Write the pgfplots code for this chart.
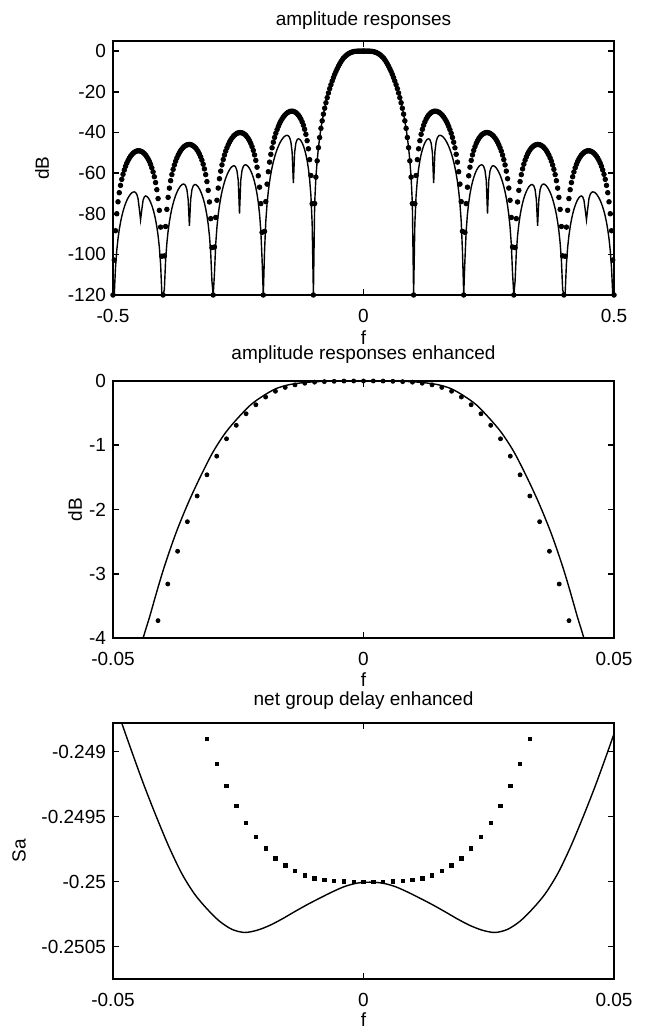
\documentclass[border=0pt]{standalone}
\usepackage{fontspec}
\setmainfont{Liberation Sans}
\usepackage{pgfplots}
\pgfplotsset{compat=1.18}
\usepackage{pgfplotstable}

% amplitude responses, f >= 0 (response is symmetric in f)
\pgfplotstableread{
f D S
0 0 0
0.0025 0 0
0.005 -0.003 -0.002
0.0075 -0.008 -0.005
0.01 -0.02 -0.013
0.0125 -0.04 -0.03
0.015 -0.08 -0.06
0.0175 -0.15 -0.12
0.02 -0.25 -0.23
0.0225 -0.43 -0.37
0.025 -0.65 -0.57
0.0275 -0.94 -0.80
0.03 -1.28 -1.10
0.0325 -1.70 -1.48
0.035 -2.19 -1.90
0.0375 -2.77 -2.38
0.04 -3.40 -2.95
0.0425 -4.25 -3.62
0.045 -5.2 -4.35
0.0475 -6.25 -5.9
0.05 -7.4 -7.2
0.0525 -8.65 -8.55
0.055 -10.0 -10.0
0.0575 -11.45 -11.45
0.06 -13.0 -13.0
0.0625 -14.7 -14.7
0.065 -16.5 -16.5
0.0675 -18.45 -18.45
0.07 -20.6 -20.6
0.0725 -22.9 -22.9
0.075 -25.4 -25.4
0.0775 -28.1 -28.1
0.08 -31.0 -31.0
0.0825 -34.3 -34.3
0.085 -38.0 -38.0
0.0875 -42.5 -42.5
0.09 -47.5 -47.5
0.0925 -54 -54
0.095 -62 -62
0.0975 -75 -75
0.1 -120 -120
0.1025 -75.1 -84.8
0.105 -61.2 -70.9
0.1075 -53.4 -63.2
0.11 -48.05 -57.85
0.1125 -44.06 -53.91
0.115 -40.94 -50.86
0.1175 -38.47 -48.49
0.12 -36.47 -46.61
0.1225 -34.81 -45.13
0.125 -33.45 -44.04
0.1275 -32.35 -43.34
0.13 -31.48 -43.13
0.1325 -30.78 -43.58
0.135 -30.24 -45.25
0.1375 -29.87 -49.88
0.14 -29.66 -65
0.1425 -29.56 -49.57
0.145 -29.59 -44.60
0.1475 -29.74 -42.54
0.15 -30.04 -41.69
0.1525 -30.43 -41.42
0.155 -30.96 -41.55
0.1575 -31.62 -41.94
0.16 -32.41 -42.55
0.1625 -33.32 -43.34
0.165 -34.39 -44.31
0.1675 -35.63 -45.48
0.17 -37.03 -46.83
0.1725 -38.61 -48.37
0.175 -40.41 -50.13
0.1775 -42.48 -52.17
0.18 -44.85 -54.52
0.1825 -47.57 -57.22
0.185 -50.78 -60.41
0.1875 -54.62 -64.24
0.19 -59.34 -68.96
0.1925 -65.45 -75.07
0.195 -74.05 -83.67
0.1975 -88.69 -98.31
0.2 -120 -120
0.2025 -89.2 -102.3
0.205 -75.04 -88.19
0.2075 -66.95 -80.12
0.21 -61.34 -74.53
0.2125 -57.11 -70.33
0.215 -53.77 -67.03
0.2175 -51.06 -64.36
0.22 -48.84 -62.19
0.2225 -46.98 -60.40
0.225 -45.41 -58.93
0.2275 -44.12 -57.76
0.23 -43.05 -56.87
0.2325 -42.16 -56.25
0.235 -41.44 -55.93
0.2375 -40.89 -56.04
0.24 -40.49 -56.79
0.2425 -40.22 -58.73
0.245 -40.09 -63.60
0.2475 -40.08 -80
0.25 -40.21 -63.72
0.2525 -40.45 -58.96
0.255 -40.84 -57.14
0.2575 -41.35 -56.50
0.26 -41.99 -56.48
0.2625 -42.76 -56.85
0.265 -43.68 -57.50
0.2675 -44.78 -58.42
0.27 -46.04 -59.56
0.2725 -47.50 -60.92
0.275 -49.17 -62.52
0.2775 -51.12 -64.42
0.28 -53.36 -66.62
0.2825 -55.97 -69.19
0.285 -59.05 -72.24
0.2875 -62.78 -75.95
0.29 -67.38 -80.53
0.2925 -73.38 -86.51
0.295 -81.86 -94.98
0.2975 -96.40 -109.5
0.3 -120 -120
0.3025 -96.68 -113.3
0.305 -82.43 -99.08
0.3075 -74.22 -90.89
0.31 -68.51 -85.20
0.3125 -64.19 -80.91
0.315 -60.76 -77.52
0.3175 -57.96 -74.76
0.32 -55.64 -72.49
0.3225 -53.68 -70.60
0.325 -52.03 -69.05
0.3275 -50.64 -67.78
0.33 -49.47 -66.79
0.3325 -48.50 -66.09
0.335 -47.69 -65.68
0.3375 -47.05 -65.70
0.34 -46.57 -66.37
0.3425 -46.22 -68.23
0.345 -46.01 -73.02
0.3475 -45.92 -86
0.35 -45.97 -72.98
0.3525 -46.13 -68.14
0.355 -46.44 -66.24
0.3575 -46.87 -65.52
0.36 -47.43 -65.42
0.3625 -48.13 -65.72
0.365 -48.97 -66.29
0.3675 -50.00 -67.14
0.37 -51.18 -68.20
0.3725 -52.56 -69.48
0.375 -54.17 -71.02
0.3775 -56.04 -72.84
0.38 -58.21 -74.97
0.3825 -60.74 -77.46
0.385 -63.76 -80.45
0.3875 -67.42 -84.09
0.39 -71.95 -88.60
0.3925 -77.88 -94.51
0.395 -86.30 -102.92
0.3975 -100.76 -117.38
0.4 -120 -120
0.4025 -100.92 -119.07
0.405 -86.60 -104.77
0.4075 -78.34 -96.53
0.41 -72.56 -90.78
0.4125 -68.18 -86.44
0.415 -64.68 -82.98
0.4175 -61.81 -80.16
0.42 -59.43 -77.85
0.4225 -57.41 -75.93
0.425 -55.70 -74.34
0.4275 -54.25 -73.07
0.43 -53.02 -72.11
0.4325 -51.99 -71.48
0.435 -51.12 -71.27
0.4375 -50.43 -71.73
0.44 -49.89 -73.40
0.4425 -49.48 -77.99
0.445 -49.20 -83
0.4475 -49.05 -77.56
0.45 -49.04 -72.55
0.4525 -49.15 -70.45
0.455 -49.40 -69.55
0.4575 -49.77 -69.26
0.46 -50.28 -69.37
0.4625 -50.92 -69.74
0.465 -51.72 -70.36
0.4675 -52.69 -71.21
0.47 -53.82 -72.24
0.4725 -55.15 -73.50
0.475 -56.69 -74.99
0.4775 -58.51 -76.77
0.48 -60.62 -78.84
0.4825 -63.10 -81.29
0.485 -66.06 -84.23
0.4875 -69.66 -87.81
0.49 -74.14 -92.27
0.4925 -80.02 -98.14
0.495 -88.38 -106.5
0.4975 -102.80 -120
0.5 -120 -120
}\toptable

% enhanced amplitude response: dotted series (k/512)
\pgfplotstableread{
f D
-0.041016 -3.73
-0.039063 -3.16
-0.037109 -2.65
-0.035156 -2.19
-0.033203 -1.79
-0.031250 -1.46
-0.029297 -1.17
-0.027344 -0.90
-0.025391 -0.69
-0.023438 -0.51
-0.021484 -0.37
-0.019531 -0.25
-0.017578 -0.16
-0.015625 -0.10
-0.013672 -0.06
-0.011719 -0.035
-0.009766 -0.018
-0.007813 -0.01
-0.005859 -0.005
-0.003906 -0.001
-0.001953 0
0 0
0.001953 0
0.003906 -0.001
0.005859 -0.005
0.007813 -0.01
0.009766 -0.018
0.011719 -0.035
0.013672 -0.06
0.015625 -0.10
0.017578 -0.16
0.019531 -0.25
0.021484 -0.37
0.023438 -0.51
0.025391 -0.69
0.027344 -0.90
0.029297 -1.17
0.031250 -1.46
0.033203 -1.79
0.035156 -2.19
0.037109 -2.65
0.039063 -3.16
0.041016 -3.73
}\middots

% enhanced amplitude response: solid series
\pgfplotstableread{
f S
-0.0475 -5.9
-0.045 -4.35
-0.0425 -3.62
-0.04 -2.95
-0.0375 -2.38
-0.035 -1.90
-0.0325 -1.48
-0.03 -1.10
-0.0275 -0.80
-0.025 -0.57
-0.0225 -0.37
-0.02 -0.23
-0.0175 -0.12
-0.015 -0.06
-0.0125 -0.03
-0.01 -0.013
-0.0075 -0.005
-0.005 -0.002
-0.0025 0
0 0
0.0025 0
0.005 -0.002
0.0075 -0.005
0.01 -0.013
0.0125 -0.03
0.015 -0.06
0.0175 -0.12
0.02 -0.23
0.0225 -0.37
0.025 -0.57
0.0275 -0.80
0.03 -1.10
0.0325 -1.48
0.035 -1.90
0.0375 -2.38
0.04 -2.95
0.0425 -3.62
0.045 -4.35
0.0475 -5.9
}\midline

% net group delay: solid series
\pgfplotstableread{
f G
-0.05125 -0.248435
-0.04875 -0.248725
-0.04625 -0.249000
-0.04375 -0.249265
-0.04125 -0.249510
-0.03875 -0.249740
-0.03625 -0.249940
-0.03375 -0.250095
-0.03125 -0.250210
-0.02875 -0.250305
-0.02625 -0.250368
-0.02375 -0.250392
-0.02125 -0.250375
-0.01875 -0.250338
-0.01625 -0.250288
-0.01375 -0.250232
-0.01125 -0.250178
-0.00875 -0.250128
-0.00625 -0.250080
-0.00375 -0.250038
-0.00125 -0.250012
0.00125 -0.250005
0.00375 -0.250012
0.00625 -0.250038
0.00875 -0.250080
0.01125 -0.250128
0.01375 -0.250178
0.01625 -0.250232
0.01875 -0.250288
0.02125 -0.250338
0.02375 -0.250375
0.02625 -0.250392
0.02875 -0.250368
0.03125 -0.250305
0.03375 -0.250210
0.03625 -0.250095
0.03875 -0.249940
0.04125 -0.249740
0.04375 -0.249510
0.04625 -0.249265
0.04875 -0.249000
0.05125 -0.248725
}\gdline

% net group delay: dotted series (k/512)
\pgfplotstableread{
f G
-0.031250 -0.248902
-0.029297 -0.249097
-0.027344 -0.249265
-0.025391 -0.249417
-0.023438 -0.249548
-0.021484 -0.249656
-0.019531 -0.249745
-0.017578 -0.249821
-0.015625 -0.249877
-0.013672 -0.249918
-0.011719 -0.249953
-0.009766 -0.249975
-0.007813 -0.249989
-0.005859 -0.249995
-0.003906 -0.250000
-0.001953 -0.250003
0 -0.250003
0.001953 -0.250003
0.003906 -0.250003
0.005859 -0.250000
0.007813 -0.249995
0.009766 -0.249989
0.011719 -0.249975
0.013672 -0.249953
0.015625 -0.249918
0.017578 -0.249877
0.019531 -0.249821
0.021484 -0.249745
0.023438 -0.249656
0.025391 -0.249548
0.027344 -0.249417
0.029297 -0.249265
0.031250 -0.249097
0.033203 -0.248902
}\gddots

\pgfplotsset{
  myax/.style={
    scale only axis, width=250.5pt, anchor=south west,
    scaled x ticks=false, scaled y ticks=false,
    axis line style={line width=0.9pt},
    tick align=inside, major tick length=3pt,
    every tick/.style={black, line width=0.8pt},
    tick label style={font=\fontsize{9.5}{11}\selectfont},
    x tick label style={yshift=-3.4pt},
    label style={font=\fontsize{9.5}{11}\selectfont},
    title style={font=\fontsize{9.5}{11}\selectfont, at={(axis description cs:0.5,1)}, anchor=center},
    xlabel style={at={(axis description cs:0.5,0)}, anchor=center},
    ylabel style={anchor=center},
    xlabel={f},
  },
}

\begin{document}
\begin{tikzpicture}
\path[use as bounding box] (0,0) rectangle (323.5pt,518pt);

\begin{axis}[myax, at={(56.5pt,370.5pt)}, height=127pt,
  xmin=-0.5, xmax=0.5, ymin=-120, ymax=5,
  xtick={-0.5,0,0.5}, xticklabels={-0.5,0,0.5},
  ytick={-120,-100,-80,-60,-40,-20,0},
  yticklabels={-120,-100,-80,-60,-40,-20,0},
  title={amplitude responses}, title style={yshift=4pt},
  xlabel style={yshift=-21.5pt},
  ylabel={dB}, ylabel style={at={(axis description cs:-0.1417,0.5)}},
]
\addplot[black, only marks, mark=*, mark size=1.15pt] table[x=f, y=D] {\toptable};
\addplot[black, only marks, mark=*, mark size=1.15pt] table[x expr=-\thisrow{f}, y=D] {\toptable};
\addplot[black, line width=0.7pt] table[x=f, y=S] {\toptable};
\addplot[black, line width=0.7pt] table[x expr=-\thisrow{f}, y=S] {\toptable};
\end{axis}

\begin{axis}[myax, at={(56.5pt,199pt)}, height=128.5pt,
  xmin=-0.05, xmax=0.05, ymin=-4, ymax=0,
  xtick={-0.05,0,0.05}, xticklabels={-0.05,0,0.05},
  ytick={-4,-3,-2,-1,0}, yticklabels={-4,-3,-2,-1,0},
  title={amplitude responses enhanced}, title style={yshift=7pt},
  xlabel style={yshift=-21pt},
  ylabel={dB}, ylabel style={at={(axis description cs:-0.0758,0.5)}},
]
\addplot[black, only marks, mark=*, mark size=1pt] table[x=f, y=D] {\middots};
\addplot[black, line width=0.7pt, smooth] table[x=f, y=S] {\midline};
\end{axis}

\begin{axis}[myax, at={(56.5pt,28.5pt)}, height=128pt,
  xmin=-0.05, xmax=0.05, ymin=-0.25075, ymax=-0.24878,
  xtick={-0.05,0,0.05}, xticklabels={-0.05,0,0.05},
  ytick={-0.2505,-0.25,-0.2495,-0.249},
  yticklabels={-0.2505,-0.25,-0.2495,-0.249},
  title={net group delay enhanced}, title style={yshift=5pt},
  xlabel style={yshift=-20.5pt},
  ylabel={Sa}, ylabel style={at={(axis description cs:-0.1876,0.5)}},
]
\addplot[black, only marks, mark=square*, mark size=0.85pt] table[x=f, y=G] {\gddots};
\addplot[black, line width=0.7pt, smooth] table[x=f, y=G] {\gdline};
\end{axis}
\end{tikzpicture}
\end{document}
